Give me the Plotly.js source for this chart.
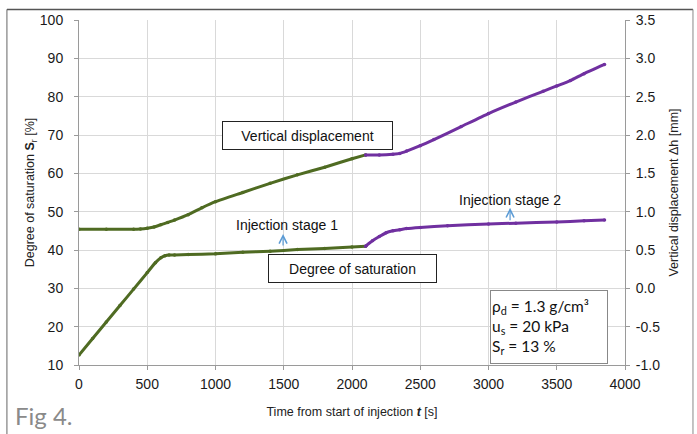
<!DOCTYPE html>
<html>
<head>
<meta charset="utf-8">
<script src="https://cdn.plot.ly/plotly-3.0.1.min.js"></script>
<style>html,body{margin:0;padding:0;background:#fff;}#chart{width:697px;height:434px;}</style>
</head>
<body>
<div id="chart"></div>
<script>
// Degree of saturation, stage 1 (green) and stage 2 (purple) [%]
var tSat1 = [0, 100, 200, 300, 400, 500, 560, 600, 630, 660, 700, 800, 1000, 1200, 1400, 1600, 1800, 2000, 2100];
var sat1  = [12.6, 16.9, 21.2, 25.5, 29.8, 34.1, 36.7, 38.0, 38.5, 38.7, 38.7, 38.8, 39.0, 39.4, 39.7, 40.1, 40.4, 40.8, 41.0];
var tSat2 = [2100, 2150, 2200, 2250, 2300, 2350, 2400, 2500, 2700, 3000, 3200, 3500, 3700, 3850];
var sat2  = [41.0, 42.4, 43.5, 44.5, 45.0, 45.3, 45.6, 45.9, 46.3, 46.8, 47.0, 47.3, 47.6, 47.8];
// Vertical displacement, stage 1 (green) and stage 2 (purple) [mm]
var tDis1 = [0, 200, 400, 450, 500, 550, 600, 650, 700, 800, 900, 1000, 1200, 1400, 1600, 1800, 2000, 2100];
var dis1  = [0.77, 0.77, 0.77, 0.775, 0.785, 0.80, 0.83, 0.86, 0.89, 0.96, 1.05, 1.13, 1.25, 1.37, 1.48, 1.58, 1.69, 1.74];
var tDis2 = [2100, 2200, 2300, 2350, 2400, 2500, 2600, 2800, 3000, 3200, 3400, 3500, 3600, 3700, 3850];
var dis2  = [1.74, 1.74, 1.75, 1.76, 1.79, 1.86, 1.94, 2.11, 2.28, 2.43, 2.57, 2.64, 2.71, 2.80, 2.92];
// Tick labels
var xTicks = [0, 500, 1000, 1500, 2000, 2500, 3000, 3500, 4000];
var yTicks = [10, 20, 30, 40, 50, 60, 70, 80, 90, 100];
var y2Ticks = [-1.0, -0.5, 0.0, 0.5, 1.0, 1.5, 2.0, 2.5, 3.0, 3.5];
var y2TickText = ["-1.0", "-0.5", "0.0", "0.5", "1.0", "1.5", "2.0", "2.5", "3.0", "3.5"];

var GREEN = '#4f6b22', PURPLE = '#7030a0';
function tr(x, y, c, ax) {
  return {x: x, y: y, yaxis: ax, type: 'scatter', mode: 'lines+markers',
    line: {color: c, width: 3, shape: 'spline', smoothing: 0.5},
    marker: {color: c, size: 3.5}, showlegend: false, hoverinfo: 'skip'};
}
var data = [
  tr(tSat1, sat1, GREEN, 'y'), tr(tSat2, sat2, PURPLE, 'y'),
  tr(tDis1, dis1, GREEN, 'y2'), tr(tDis2, dis2, PURPLE, 'y2')
];

var F = 'Liberation Sans, Arial, sans-serif';
var TF = {size: 14, color: '#1a1a1a'};
var layout = {
  width: 697, height: 434,
  margin: {l: 79, r: 72, t: 20, b: 69},
  paper_bgcolor: '#fff', plot_bgcolor: '#fff',
  font: {family: F, size: 12, color: '#222'},
  xaxis: {range: [0, 4000], tickvals: xTicks, showgrid: true, gridcolor: '#d9d9d9',
    showline: true, linecolor: '#9a9a9a', ticks: 'outside', ticklen: 4, tickcolor: '#9a9a9a',
    tickfont: TF, zeroline: false, ticklabelstandoff: 2,
    title: {text: 'Time from start of injection <b><i>t</i></b> [s]', font: {size: 12.5}, standoff: 16}},
  yaxis: {range: [10, 100], tickvals: yTicks, showgrid: true, gridcolor: '#d9d9d9',
    showline: true, linecolor: '#9a9a9a', ticks: 'outside', ticklen: 4, tickcolor: '#9a9a9a',
    tickfont: TF, zeroline: false, ticklabelstandoff: 8,
    title: {text: 'Degree of saturation <b>S</b><sub>r</sub> [%]', font: {size: 12.5}, standoff: 2}},
  yaxis2: {range: [-1, 3.5], overlaying: 'y', side: 'right', tickvals: y2Ticks, ticktext: y2TickText,
    showgrid: false, showline: true, linecolor: '#9a9a9a', ticks: 'outside', ticklen: 4, tickcolor: '#9a9a9a',
    tickfont: TF, zeroline: false, ticklabelstandoff: 3,
    title: {text: 'Vertical displacement Δh [mm]', font: {size: 12.5}, standoff: 10}},
  shapes: [
    {type: 'line', xref: 'paper', yref: 'paper', x0: -0.132, x1: 1.1245, y0: 1.0307, y1: 1.0307, line: {color: '#555', width: 1.5}},
    {type: 'line', xref: 'paper', yref: 'paper', x0: -0.132, x1: -0.132, y0: 1.0307, y1: -0.2, line: {color: '#666', width: 1}},
    {type: 'line', xref: 'paper', yref: 'paper', x0: 1.1245, x1: 1.1245, y0: 1.0307, y1: -0.2, line: {color: '#888', width: 1}}
  ],
  annotations: [
    {x: 1674, y: 69.8, xref: 'x', yref: 'y', text: 'Vertical displacement', showarrow: false,
      font: {size: 14, color: '#111'}, bgcolor: '#fff', bordercolor: '#222', borderwidth: 1, width: 167, height: 25},
    {x: 2004, y: 35.1, xref: 'x', yref: 'y', text: 'Degree of saturation', showarrow: false,
      font: {size: 14, color: '#111'}, bgcolor: '#fff', bordercolor: '#222', borderwidth: 1, width: 165, height: 25},
    {x: 1524, y: 46.6, xref: 'x', yref: 'y', text: 'Injection stage 1', showarrow: false, font: {size: 14, color: '#111'}},
    {x: 3158, y: 53.1, xref: 'x', yref: 'y', text: 'Injection stage 2', showarrow: false, font: {size: 14, color: '#111'}},
    {x: 1495, y: 44.2, xref: 'x', yref: 'y', text: '', showarrow: true, ax: 0, ay: 13,
      arrowhead: 5, arrowsize: 1.3, arrowwidth: 1.2, arrowcolor: '#5b9bd5'},
    {x: 3158, y: 51.0, xref: 'x', yref: 'y', text: '', showarrow: true, ax: 0, ay: 14,
      arrowhead: 5, arrowsize: 1.3, arrowwidth: 1.2, arrowcolor: '#5b9bd5'},
    {x: 3443, y: 20.0, xref: 'x', yref: 'y', showarrow: false, align: 'left',
      text: 'ρ<sub>d</sub> = 1.3 g/cm³<br>u<sub>s</sub> = 20 kPa<br>S<sub>r</sub> = 13 %',
      font: {family: 'Lato, sans-serif', size: 15.5, color: '#111'}, bgcolor: '#fff', bordercolor: '#888', borderwidth: 1,
      width: 114, height: 70, xanchor: 'center', yanchor: 'middle'},
    {x: -0.12, y: -0.145, xref: 'paper', yref: 'paper', xanchor: 'left', yanchor: 'middle', showarrow: false,
      text: 'Fig 4.', font: {family: 'Lato, sans-serif', size: 24, color: '#8a8a8a'}}
  ]
};
Plotly.newPlot('chart', data, layout, {staticPlot: true, displayModeBar: false});
</script>
</body>
</html>
